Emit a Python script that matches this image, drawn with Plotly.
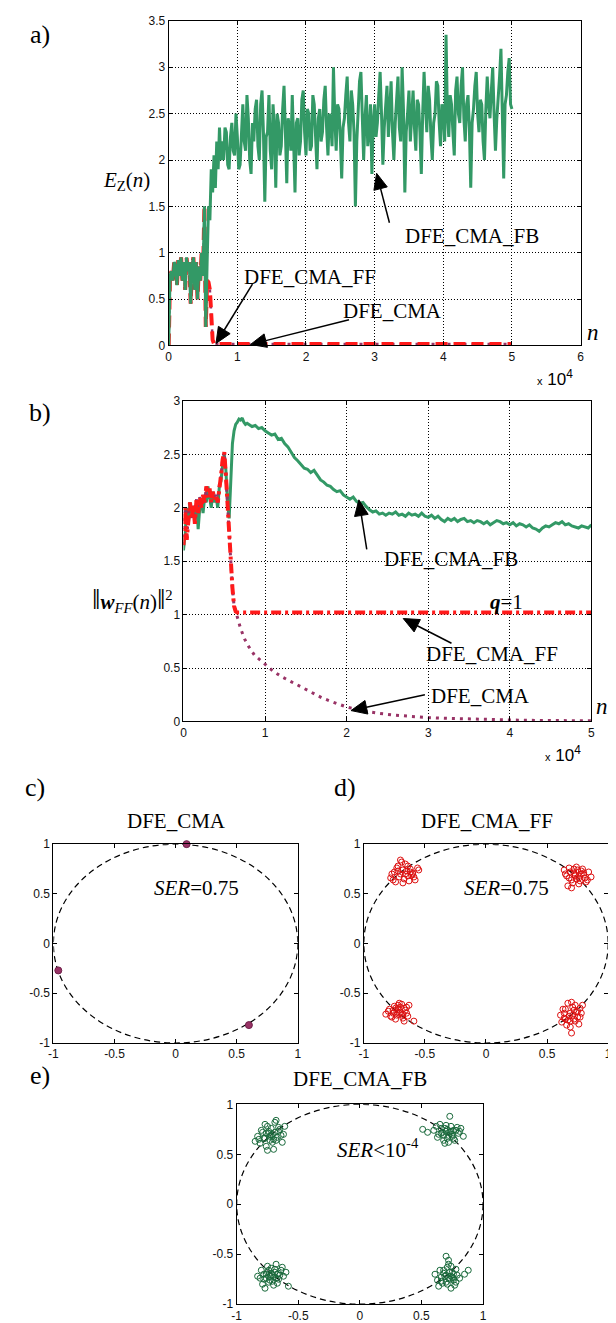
import math
import plotly.graph_objects as go

W, H = 616, 1323

# ---------------- data ----------------
# Panel a: E_Z(n)
n_a_early = list(range(0, 8000, 200))
ez_fb_early = [0.0, 0.75, 0.8, 0.7, 0.9, 0.85, 0.65, 0.92, 0.75, 0.95,
               0.7, 0.9, 0.6, 0.95, 0.8, 0.9, 0.45, 0.85, 0.95, 0.6,
               0.9, 0.5, 0.85, 0.7, 1.0, 0.75, 1.5, 0.2, 0.9, 1.5,
               1.35, 1.9, 1.65, 2.05, 1.7, 2.2, 1.9, 2.35, 2.0, 2.2]
n_a_late = list(range(8000, 50001, 200))
ez_fb_late = [2.0, 2.35, 2.3, 1.95, 1.9, 2.25, 2.4, 2.1, 2.05, 2.5,
              2.25, 1.9, 1.95, 2.3, 2.6, 2.2, 2.1, 2.7, 2.45, 2.0,
              1.85, 2.4, 2.2, 2.55, 2.65, 2.15, 2.0, 2.6, 2.75, 2.3,
              1.55, 2.25, 2.3, 2.7, 2.1, 1.9, 2.6, 2.35, 1.7, 2.5,
              2.4, 2.05, 2.15, 2.55, 2.8, 2.3, 1.75, 2.45, 2.35, 2.1,
              2.7, 2.2, 1.65, 2.4, 2.45, 2.05, 2.2, 2.65, 2.75, 2.3,
              2.05, 2.55, 2.5, 2.1, 2.15, 2.7, 2.6, 2.25, 1.9, 2.45,
              2.55, 2.2, 2.3, 2.65, 2.8, 2.35, 2.05, 2.5, 2.4, 2.15,
              3.0, 2.45, 2.1, 2.6, 2.55, 2.25, 1.8, 2.35, 2.45, 2.7,
              2.9, 2.4, 2.2, 2.75, 2.6, 2.3, 1.5, 2.2, 2.5, 2.85,
              2.95, 2.35, 2.0, 2.45, 2.7, 2.15, 2.3, 2.6, 1.85, 2.4,
              2.6, 2.25, 2.4, 2.7, 2.95, 2.5, 1.95, 2.35, 2.55, 2.8,
              2.25, 2.5, 2.85, 2.3, 2.0, 2.4, 2.65, 2.9, 2.35, 2.2,
              3.0, 2.55, 1.65, 2.3, 2.5, 2.75, 2.2, 2.45, 2.75, 2.35,
              2.1, 2.65, 2.6, 2.3, 1.85, 2.5, 2.95, 2.6, 2.3, 2.8,
              2.65, 2.25, 2.0, 2.4, 2.5, 2.85, 2.8, 2.4, 2.15, 2.6,
              2.55, 2.2, 3.35, 2.5, 2.25, 2.7, 2.6, 2.3, 2.05, 2.75,
              2.9, 2.5, 2.4, 2.8, 3.0, 2.45, 2.2, 2.6, 2.7, 2.35,
              1.7, 2.4, 2.55, 2.8, 2.95, 2.5, 2.3, 2.65, 2.6, 2.2,
              2.0, 2.55, 2.9, 2.6, 2.45, 2.75, 3.0, 2.5, 2.1, 2.45,
              2.65, 2.9, 3.2, 2.4, 1.8, 2.6, 2.7, 2.95, 3.1, 2.6,
              2.55]
n_ff_a = list(range(0, 5600, 200)) + [5600, 5800, 6000, 6200, 6400, 6600, 7000, 50000]
ez_ff = ez_fb_early[:28] + [0.7, 0.68, 0.6, 0.3, 0.06, 0.02, 0.015, 0.015]
ez_cma = ez_ff[:]

# Panel b: ||w_FF(n)||^2
n_b_early = list(range(0, 8000, 200))
w_fb_early = [1.6, 1.75, 2.0, 1.85, 2.05, 1.95, 2.0, 1.9, 2.05, 1.8,
              2.0, 2.08, 1.95, 2.1, 2.05, 2.2, 2.1, 2.0, 2.15, 2.05,
              2.1, 2.0, 2.2, 2.25, 2.4, 2.5, 2.35, 2.05, 1.9, 2.3,
              2.6, 2.72, 2.78, 2.8, 2.83, 2.82, 2.84, 2.8, 2.78, 2.79]
n_b_late = list(range(8000, 50001, 400))
w_fb_late = [2.78, 2.76, 2.77, 2.74, 2.75, 2.72, 2.7, 2.68, 2.69, 2.64,
             2.65, 2.6, 2.57, 2.52, 2.47, 2.44, 2.4, 2.37, 2.36, 2.33,
             2.35, 2.3, 2.26, 2.24, 2.21, 2.2, 2.17, 2.15, 2.16, 2.12,
             2.1, 2.08, 2.1, 2.06, 2.04, 2.05, 2.01, 1.98, 1.96, 1.97,
             1.94, 1.95, 1.93, 1.95, 1.94, 1.96, 1.93, 1.94, 1.92, 1.95,
             1.93, 1.94, 1.92, 1.95, 1.92, 1.91, 1.93, 1.9, 1.92, 1.89,
             1.87, 1.9, 1.88, 1.9, 1.87, 1.89, 1.9, 1.87, 1.88, 1.86,
             1.88, 1.87, 1.85, 1.87, 1.84, 1.86, 1.88, 1.87, 1.85, 1.86,
             1.84, 1.86, 1.83, 1.85, 1.84, 1.82, 1.84, 1.81, 1.8, 1.78,
             1.81, 1.83, 1.82, 1.84, 1.86, 1.85, 1.87, 1.84, 1.85, 1.83,
             1.82, 1.81, 1.83, 1.82, 1.81, 1.84]
n_ff_b = list(range(0, 6600, 200)) + [6600, 50000]
w_ff = [1.65, 2.0, 1.7, 1.95, 2.05, 1.9, 2.02, 1.85, 2.08, 1.95,
        2.1, 2.0, 2.12, 2.05, 2.2, 2.1, 2.18, 2.05, 2.15, 2.08,
        2.12, 2.05, 2.22, 2.3, 2.45, 2.52, 2.3, 2.0, 1.75, 1.5,
        1.25, 1.08, 1.03, 1.02, 1.02]
n_cma_b = list(range(0, 6600, 200)) + [6600, 7000, 7500, 8000, 8700, 10000, 11000, 12000,
                                       13000, 14000, 15000, 16000, 17000, 18000, 19000,
                                       20000, 22000, 24000, 26000, 28000, 30000, 32000,
                                       35000, 38000, 41000, 44000, 47000, 50000]
w_cma = w_ff[:33] + [0.97, 0.87, 0.77, 0.7, 0.62, 0.53, 0.47, 0.42,
                     0.38, 0.34, 0.3, 0.26, 0.22, 0.19, 0.16,
                     0.135, 0.1, 0.075, 0.058, 0.045, 0.036, 0.03,
                     0.022, 0.016, 0.012, 0.009, 0.007, 0.006]

# Panel c: DFE_CMA constellation
c_x = [0.09, -0.96, 0.6]
c_y = [1.0, -0.27, -0.82]

# Panel d: DFE_CMA_FF constellation
d_x = [-0.78, -0.75, -0.72, -0.70, -0.68, -0.66, -0.64, -0.62, -0.60, -0.58,
       -0.56, -0.74, -0.71, -0.69, -0.67, -0.65, -0.63, -0.61, -0.77, -0.73,
       -0.70, -0.66, -0.62, -0.59, -0.55, -0.68, -0.64, -0.72, -0.76, -0.60,
       0.64, 0.66, 0.68, 0.70, 0.72, 0.74, 0.76, 0.78, 0.80, 0.82,
       0.84, 0.86, 0.67, 0.69, 0.71, 0.73, 0.75, 0.77, 0.79, 0.81,
       0.65, 0.70, 0.74, 0.78, 0.83, 0.72, 0.76, 0.68, 0.80, 0.73,
       -0.82, -0.79, -0.77, -0.75, -0.73, -0.71, -0.69, -0.67, -0.65, -0.63,
       -0.80, -0.76, -0.74, -0.72, -0.70, -0.68, -0.66, -0.64, -0.78, -0.74,
       -0.71, -0.69, -0.67, -0.73, -0.76, -0.70, -0.65, -0.59, -0.72, -0.68,
       0.61, 0.63, 0.65, 0.67, 0.69, 0.71, 0.73, 0.75, 0.77, 0.79,
       0.62, 0.64, 0.66, 0.68, 0.70, 0.72, 0.74, 0.76, 0.78, 0.65,
       0.69, 0.71, 0.73, 0.67, 0.75, 0.70, 0.72, 0.64, 0.69, 0.77]
d_y = [0.66, 0.72, 0.78, 0.70, 0.74, 0.80, 0.68, 0.75, 0.71, 0.64,
       0.76, 0.62, 0.67, 0.82, 0.65, 0.73, 0.63, 0.69, 0.70, 0.76,
       0.84, 0.70, 0.72, 0.67, 0.74, 0.61, 0.78, 0.73, 0.64, 0.70,
       0.74, 0.68, 0.76, 0.64, 0.71, 0.77, 0.66, 0.73, 0.69, 0.62,
       0.72, 0.67, 0.58, 0.72, 0.61, 0.69, 0.74, 0.63, 0.75, 0.66,
       0.70, 0.56, 0.65, 0.70, 0.64, 0.75, 0.60, 0.66, 0.71, 0.68,
       -0.71, -0.66, -0.74, -0.63, -0.69, -0.60, -0.72, -0.65, -0.70, -0.62,
       -0.68, -0.70, -0.76, -0.66, -0.64, -0.75, -0.67, -0.73, -0.73, -0.65,
       -0.70, -0.61, -0.78, -0.72, -0.67, -0.69, -0.64, -0.78, -0.62, -0.71,
       -0.72, -0.66, -0.76, -0.60, -0.70, -0.64, -0.78, -0.68, -0.74, -0.62,
       -0.79, -0.70, -0.82, -0.73, -0.59, -0.76, -0.69, -0.81, -0.70, -0.66,
       -0.84, -0.72, -0.62, -0.77, -0.74, -0.90, -0.67, -0.75, -0.78, -0.65]

# Panel e: DFE_CMA_FB constellation
e_x = [-0.85, -0.83, -0.81, -0.79, -0.77, -0.75, -0.73, -0.71, -0.69, -0.67,
       -0.65, -0.63, -0.61, -0.80, -0.76, -0.74, -0.72, -0.70, -0.68, -0.66,
       -0.64, -0.78, -0.75, -0.71, -0.69, -0.73, -0.77, -0.62, -0.70, -0.74,
       -0.68, -0.82, -0.66, -0.72, -0.76,
       0.51, 0.55, 0.60, 0.62, 0.64, 0.66, 0.68, 0.70, 0.72, 0.74,
       0.76, 0.78, 0.80, 0.82, 0.84, 0.63, 0.65, 0.67, 0.69, 0.71,
       0.73, 0.75, 0.77, 0.79, 0.70, 0.72, 0.74, 0.68, 0.66, 0.76,
       0.71, 0.73, 0.69, 0.75, 0.81,
       -0.83, -0.80, -0.78, -0.76, -0.74, -0.72, -0.70, -0.68, -0.66, -0.64,
       -0.62, -0.60, -0.79, -0.77, -0.75, -0.73, -0.71, -0.69, -0.67, -0.65,
       -0.63, -0.76, -0.72, -0.70, -0.68, -0.74, -0.66, -0.78, -0.58, -0.71,
       -0.69, -0.73, -0.67, -0.75, -0.81,
       0.61, 0.63, 0.65, 0.67, 0.69, 0.71, 0.73, 0.75, 0.77, 0.79,
       0.81, 0.64, 0.66, 0.68, 0.70, 0.72, 0.74, 0.76, 0.78, 0.70,
       0.72, 0.74, 0.76, 0.68, 0.71, 0.73, 0.75, 0.88, 0.85, 0.66,
       0.78, 0.72, 0.74, 0.70, 0.76]
e_y = [0.63, 0.68, 0.61, 0.72, 0.66, 0.78, 0.64, 0.70, 0.82, 0.67,
       0.75, 0.62, 0.78, 0.74, 0.58, 0.71, 0.76, 0.65, 0.84, 0.73,
       0.69, 0.66, 0.54, 0.62, 0.72, 0.68, 0.80, 0.70, 0.55, 0.73,
       0.64, 0.65, 0.77, 0.69, 0.71,
       0.75, 0.72, 0.74, 0.78, 0.70, 0.76, 0.64, 0.73, 0.69, 0.78,
       0.66, 0.74, 0.71, 0.76, 0.68, 0.67, 0.80, 0.72, 0.61, 0.75,
       0.88, 0.70, 0.64, 0.77, 0.79, 0.62, 0.73, 0.69, 0.71, 0.74,
       0.66, 0.72, 0.76, 0.68, 0.73,
       -0.72, -0.66, -0.75, -0.70, -0.78, -0.64, -0.73, -0.60, -0.69, -0.66,
       -0.72, -0.68, -0.80, -0.84, -0.68, -0.72, -0.77, -0.65, -0.79, -0.71,
       -0.63, -0.74, -0.69, -0.81, -0.74, -0.66, -0.75, -0.70, -0.82, -0.71,
       -0.68, -0.76, -0.70, -0.62, -0.74,
       -0.70, -0.76, -0.66, -0.79, -0.72, -0.63, -0.75, -0.68, -0.81, -0.71,
       -0.74, -0.82, -0.73, -0.69, -0.78, -0.60, -0.72, -0.76, -0.65, -0.52,
       -0.56, -0.84, -0.70, -0.66, -0.80, -0.68, -0.73, -0.66, -0.70, -0.77,
       -0.78, -0.74, -0.62, -0.71, -0.74]

# tick labels
a_xticks = [0, 1, 2, 3, 4, 5, 6]
a_yticks = [0, 0.5, 1, 1.5, 2, 2.5, 3, 3.5]
b_xticks = [0, 1, 2, 3, 4, 5]
b_yticks = [0, 0.5, 1, 1.5, 2, 2.5, 3]
iq_ticks = [-1, -0.5, 0, 0.5, 1]

# ---------------- styling ----------------
GREEN = "#339966"
RED = "#ff1a1a"
PURPLE = "#993366"
DGREEN = "#1a6a3c"
DRED = "#dd1111"
SERIF = "Liberation Serif, Times New Roman, serif"
SANS = "Liberation Sans, Arial, sans-serif"


def px(x):
    return x / W


def py(y):
    return 1 - y / H


def fmt(v):
    return ("%g" % v)


fig = go.Figure()

# panel a
fig.add_trace(go.Scatter(x=n_ff_a, y=ez_cma, mode="lines", xaxis="x", yaxis="y",
                         line=dict(color=PURPLE, width=2.5, dash="3px,5px")))
fig.add_trace(go.Scatter(x=n_ff_a, y=ez_ff, mode="lines", xaxis="x", yaxis="y",
                         line=dict(color=RED, width=4, dash="12px,6px")))
fig.add_trace(go.Scatter(x=n_a_early + n_a_late, y=ez_fb_early + ez_fb_late, mode="lines",
                         xaxis="x", yaxis="y", line=dict(color=GREEN, width=3)))

# panel b
fig.add_trace(go.Scatter(x=n_b_early + n_b_late, y=w_fb_early + w_fb_late, mode="lines",
                         xaxis="x2", yaxis="y2", line=dict(color=GREEN, width=3)))
fig.add_trace(go.Scatter(x=n_cma_b, y=w_cma, mode="lines", xaxis="x2", yaxis="y2",
                         line=dict(color=PURPLE, width=3, dash="3px,5px")))
fig.add_trace(go.Scatter(x=n_ff_b, y=w_ff, mode="lines", xaxis="x2", yaxis="y2",
                         line=dict(color=RED, width=4, dash="10px,4px,3px,4px")))

# panels c, d, e
fig.add_trace(go.Scatter(x=c_x, y=c_y, mode="markers", xaxis="x3", yaxis="y3", cliponaxis=False,
                         marker=dict(color=PURPLE, size=7, line=dict(color="#6e2048", width=1))))
fig.add_trace(go.Scatter(x=d_x, y=d_y, mode="markers", xaxis="x4", yaxis="y4", cliponaxis=False,
                         marker=dict(symbol="circle-open", color=DRED, size=6, line=dict(width=1))))
fig.add_trace(go.Scatter(x=e_x, y=e_y, mode="markers", xaxis="x5", yaxis="y5", cliponaxis=False,
                         marker=dict(symbol="circle-open", color=DGREEN, size=6, line=dict(width=1))))

axis_common = dict(showline=True, linecolor="black", linewidth=1, mirror="ticks",
                   ticks="inside", ticklen=4, tickcolor="black", zeroline=False,
                   tickfont=dict(family=SANS, size=12, color="#111"))
grid = dict(showgrid=True, gridcolor="black", gridwidth=1, griddash="1px,2px")
nogrid = dict(showgrid=False)

layout = dict(
    width=W, height=H, margin=dict(l=0, r=0, t=0, b=0),
    paper_bgcolor="white", plot_bgcolor="white", showlegend=False,
    xaxis=dict(domain=[px(158), px(576)], range=[0, 60000], anchor="y",
               tickvals=[t * 10000 for t in a_xticks], ticktext=[fmt(t) for t in a_xticks],
               **axis_common, **grid),
    yaxis=dict(domain=[py(334), py(6)], range=[0, 3.5], anchor="x",
               tickvals=a_yticks, ticktext=[fmt(t) for t in a_yticks], **axis_common, **grid),
    xaxis2=dict(domain=[px(173), px(587)], range=[0, 50000], anchor="y2",
                tickvals=[t * 10000 for t in b_xticks], ticktext=[fmt(t) for t in b_xticks],
                **axis_common, **grid),
    yaxis2=dict(domain=[py(714), py(390)], range=[0, 3], anchor="x2",
                tickvals=b_yticks, ticktext=[fmt(t) for t in b_yticks], **axis_common, **grid),
)
iq_doms = {3: ([41, 289], [1039, 838]), 4: ([356, 604], [1039, 838]), 5: ([227, 477], [1303, 1101])}
for k, (xd, yd) in iq_doms.items():
    layout["xaxis%d" % k] = dict(domain=[px(xd[0]), px(xd[1])], range=[-1, 1], anchor="y%d" % k,
                                 tickvals=iq_ticks, ticktext=[fmt(t) for t in iq_ticks],
                                 **axis_common, **nogrid)
    layout["yaxis%d" % k] = dict(domain=[py(yd[0]), py(yd[1])], range=[-1, 1], anchor="x%d" % k,
                                 tickvals=iq_ticks, ticktext=[fmt(t) for t in iq_ticks],
                                 **axis_common, **nogrid)
fig.update_layout(**layout)

# unit circles
for k in (3, 4, 5):
    fig.add_shape(type="circle", xref="x%d" % k, yref="y%d" % k, x0=-1, y0=-1, x1=1, y1=1,
                  line=dict(color="black", width=1.2, dash="6px,4px"), layer="below")


# annotation arrows (drawn as shapes, positions in page pixels)
def arrow(tip, tail, head_len=16, head_half=7):
    tx, ty = tip
    sx, sy = tail
    d = math.hypot(tx - sx, ty - sy)
    ux, uy = (tx - sx) / d, (ty - sy) / d
    bx, by = tx - ux * head_len, ty - uy * head_len
    fig.add_shape(type="line", xref="paper", yref="paper",
                  x0=px(sx), y0=py(sy), x1=px(bx), y1=py(by),
                  line=dict(color="black", width=1.5))
    p1 = (bx - uy * head_half, by + ux * head_half)
    p2 = (bx + uy * head_half, by - ux * head_half)
    path = "M%.5f,%.5f L%.5f,%.5f L%.5f,%.5f Z" % (px(tx), py(ty), px(p1[0]), py(p1[1]),
                                                   px(p2[0]), py(p2[1]))
    fig.add_shape(type="path", xref="paper", yref="paper", path=path,
                  fillcolor="black", line=dict(color="black", width=1))


arrow((369, 160), (382, 210))
arrow((206, 332), (243, 272))
arrow((241, 333), (341, 308))
arrow((351, 490), (359, 540))
arrow((396, 610), (445, 635))
arrow((343, 703), (418, 687))

ann = []


def text(x, y, s, size=21, xref="paper", yref="paper", family=SERIF, xanchor="center"):
    ann.append(dict(x=x, y=y, xref=xref, yref=yref, text=s, showarrow=False,
                    xanchor=xanchor, yanchor="middle", font=dict(family=family, size=size, color="black")))


# panel labels
text(px(27), py(20), "a)", size=26)
text(px(27), py(402), "b)", size=26)
text(px(22), py(781), "c)", size=26)
text(px(337), py(781), "d)", size=26)
text(px(27), py(1072), "e)", size=26)

BAR = "<span style='font-size:30px'>‖</span>"

# panel a annotations
text(px(115), py(168), "<i>E</i><sub>Z</sub>(<i>n</i>)", size=21)
text(px(589), py(321), "<i>n</i>", size=23)
text(px(550), py(367), "<span style='font-size:11px'>x</span> 10<sup>4</sup>", size=17, family=SANS)
text(44211, 1.184, "DFE_CMA_FB", xref="x", yref="y")
text(20526, 0.736, "DFE_CMA_FF", xref="x", yref="y")
text(32584, 0.373, "DFE_CMA", xref="x", yref="y")

# panel b annotations
text(px(121), py(590), BAR + "<b><i>w</i></b><sub><i>FF</i></sub>(<i>n</i>)" + BAR + "<sup>2</sup>", size=21)
text(px(598), py(699), "<i>n</i>", size=23)
text(px(558), py(747), "<span style='font-size:11px'>x</span> 10<sup>4</sup>", size=17, family=SANS)
text(32729, 1.519, "DFE_CMA_FB", xref="x2", yref="y2")
text(39614, 1.12, "<b><i>q</i></b>=1", xref="x2", yref="y2")
text(37802, 0.63, "DFE_CMA_FF", xref="x2", yref="y2")
text(36353, 0.241, "DFE_CMA", xref="x2", yref="y2")

# constellation titles / SER
text(px(166), py(815), "DFE_CMA", size=21)
text(px(481), py(815), "DFE_CMA_FF", size=21)
text(px(352), py(1075), "DFE_CMA_FB", size=21)
text(0.169, 0.56, "<i>SER</i>=0.75", xref="x3", yref="y3")
text(0.169, 0.56, "<i>SER</i>=0.75", xref="x4", yref="y4")
text(0.144, 0.554, "<i>SER</i>&lt;10<sup>-4</sup>", xref="x5", yref="y5")

fig.update_layout(annotations=ann)
fig.write_html("out.html")
